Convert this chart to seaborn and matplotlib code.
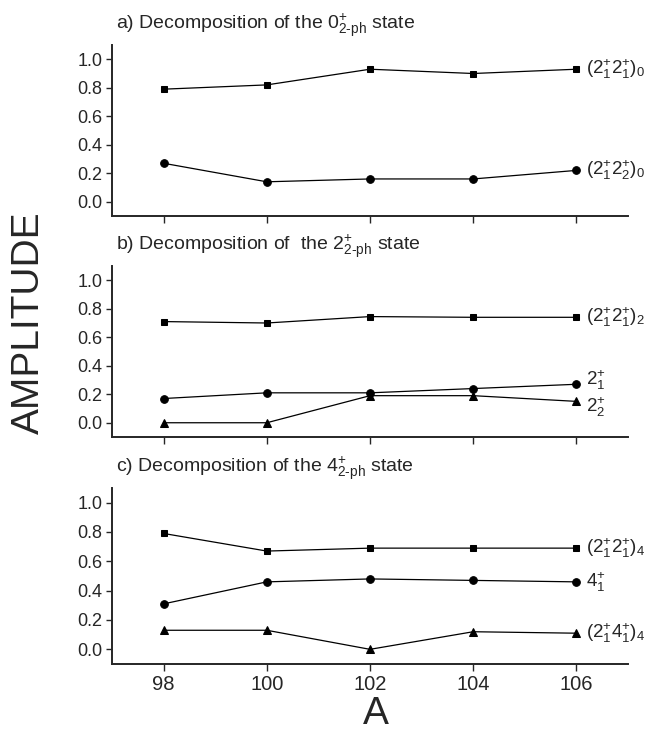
import numpy as np
import pandas as pd
import matplotlib
matplotlib.use("Agg")
import matplotlib.pyplot as plt
import seaborn as sns

# ---- data ----
mass_A = [98, 100, 102, 104, 106]

a_2121_0 = [0.79, 0.82, 0.93, 0.90, 0.93]
a_2122_0 = [0.27, 0.14, 0.16, 0.16, 0.22]

b_2121_2 = [0.71, 0.70, 0.745, 0.74, 0.74]
b_21 = [0.17, 0.21, 0.21, 0.24, 0.27]
b_22 = [0.0, 0.0, 0.19, 0.19, 0.15]

c_2121_4 = [0.79, 0.67, 0.69, 0.69, 0.69]
c_41 = [0.31, 0.46, 0.48, 0.47, 0.46]
c_2141_4 = [0.13, 0.13, 0.0, 0.12, 0.11]

titles = [
    r"a) Decomposition of the $0^{+}_{\text{2-ph}}$ state",
    r"b) Decomposition of  the $2^{+}_{\text{2-ph}}$ state",
    r"c) Decomposition of the $4^{+}_{\text{2-ph}}$ state",
]

y_ticks = [0.0, 0.2, 0.4, 0.6, 0.8, 1.0]
y_ticklabels = ["0.0", "0.2", "0.4", "0.6", "0.8", "1.0"]

# (values, marker, label, label y offset)
panels = [
    [(a_2121_0, "s", r"$(2^{+}_{1}2^{+}_{1})_{0}$", 0.0),
     (a_2122_0, "o", r"$(2^{+}_{1}2^{+}_{2})_{0}$", 0.0)],
    [(b_2121_2, "s", r"$(2^{+}_{1}2^{+}_{1})_{2}$", 0.0),
     (b_21, "o", r"$2^{+}_{1}$", 0.03),
     (b_22, "^", r"$2^{+}_{2}$", -0.04)],
    [(c_2121_4, "s", r"$(2^{+}_{1}2^{+}_{1})_{4}$", 0.0),
     (c_41, "o", r"$4^{+}_{1}$", 0.0),
     (c_2141_4, "^", r"$(2^{+}_{1}4^{+}_{1})_{4}$", 0.0)],
]

sns.set_style("ticks")
plt.rcParams["font.family"] = ["Liberation Sans", "DejaVu Sans"]
plt.rcParams["mathtext.fontset"] = "custom"
plt.rcParams["mathtext.rm"] = "Liberation Sans"
plt.rcParams["mathtext.it"] = "Liberation Sans:italic"
plt.rcParams["mathtext.bf"] = "Liberation Sans:bold"

fig = plt.figure(figsize=(6.5, 7.36), dpi=100)
W, H = 650, 736
left, right = 112, 628
boxes = [(45, 216), (266, 437), (488, 664)]

msize = {"s": 4.5, "o": 5.5, "^": 5.5}

for i, ((top, bot), series) in enumerate(zip(boxes, panels)):
    ax = fig.add_axes([left / W, 1 - bot / H, (right - left) / W, (bot - top) / H])
    for vals, mk, lab, dy in series:
        df = pd.DataFrame({"A": mass_A, "amp": vals})
        sns.lineplot(data=df, x="A", y="amp", ax=ax, color="black", lw=0.9,
                     marker=mk, markersize=msize[mk], markeredgecolor="black",
                     markerfacecolor="black", legend=False)
        ax.annotate(lab, xy=(mass_A[-1], vals[-1] + dy), xytext=(7, 0),
                    textcoords="offset points", ha="left", va="center",
                    fontsize=13.5, annotation_clip=False)
    ax.set_xlim(97, 107)
    ax.set_ylim(-0.1, 1.1)
    ax.set_yticks(y_ticks)
    ax.set_yticklabels(y_ticklabels)
    ax.set_xticks(mass_A)
    ax.set_xlabel("")
    ax.set_ylabel("")
    for s in ["top", "right"]:
        ax.spines[s].set_visible(False)
    for s in ["left", "bottom"]:
        ax.spines[s].set_linewidth(1.4)
    ax.tick_params(axis="y", labelsize=13, length=4, width=1, pad=3)
    ax.tick_params(axis="x", labelsize=14.5, length=5, width=1, pad=3)
    if i < 2:
        ax.tick_params(axis="x", labelbottom=False)
    fig.text(116 / W, 1 - (top - 20) / H, titles[i], fontsize=14,
             ha="left", va="center")

fig.text(376 / W, 1 - 714 / H, "A", fontsize=28, ha="center", va="center")
fig.text(29 / W, 1 - 323 / H, "AMPLITUDE", fontsize=28, rotation=90,
         ha="center", va="center")

fig.savefig("out.png", dpi=100)
